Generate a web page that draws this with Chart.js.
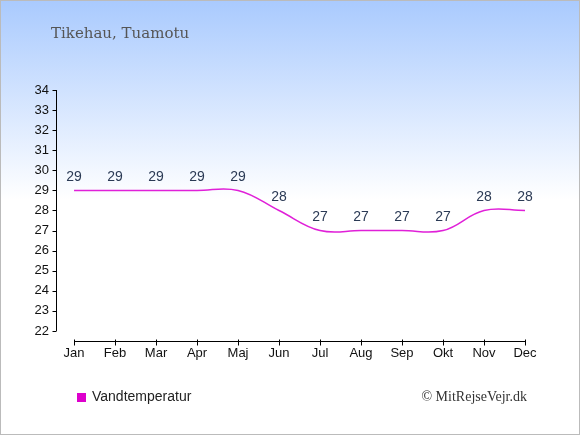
<!DOCTYPE html>
<html>
<head>
<meta charset="utf-8">
<script src="https://cdn.jsdelivr.net/npm/chart.js@4/dist/chart.umd.min.js"></script>
<style>
html,body{margin:0;padding:0;background:#fff;}
canvas{display:block;}
</style>
</head>
<body>
<canvas id="c" width="580" height="435"></canvas>
<script>
const title = "Tikehau, Tuamotu";
const months = ["Jan","Feb","Mar","Apr","Maj","Jun","Jul","Aug","Sep","Okt","Nov","Dec"];
const waterTemp = [29,29,29,29,29,28,27,27,27,27,28,28];
const yTicks = [22,23,24,25,26,27,28,29,30,31,32,33,34];
const seriesName = "Vandtemperatur";
const credit = "© MitRejseVejr.dk";

const points = waterTemp.map((v,i)=>({x:i,y:v}));

const deco = {
  id:'deco',
  beforeDraw(chart){
    const ctx = chart.ctx, W = chart.width, H = chart.height;
    ctx.save();
    const g = ctx.createLinearGradient(0,0,0,200);
    g.addColorStop(0,'#a9cafe');
    g.addColorStop(1,'#ffffff');
    ctx.fillStyle = '#ffffff';
    ctx.fillRect(0,0,W,H);
    ctx.fillStyle = g;
    ctx.fillRect(0,0,W,200);
    ctx.restore();
  },
  afterDraw(chart){
    const ctx = chart.ctx, W = chart.width, H = chart.height;
    const xs = chart.scales.x, ys = chart.scales.y;
    ctx.save();
    // axes
    ctx.strokeStyle = '#000';
    ctx.lineWidth = 1;
    const ax = Math.round(chart.chartArea.left)+0.5;
    ctx.beginPath();
    ctx.moveTo(ax, ys.getPixelForValue(yTicks[yTicks.length-1]));
    ctx.lineTo(ax, ys.getPixelForValue(yTicks[0]));
    yTicks.forEach(v=>{
      const py = Math.round(ys.getPixelForValue(v))+0.5;
      ctx.moveTo(ax-4, py); ctx.lineTo(ax, py);
    });
    const by = Math.round(chart.chartArea.bottom)+0.5;
    ctx.moveTo(xs.getPixelForValue(0), by);
    ctx.lineTo(xs.getPixelForValue(months.length-1), by);
    months.forEach((m,i)=>{
      const px = Math.round(xs.getPixelForValue(i))+0.5;
      ctx.moveTo(px, by-2); ctx.lineTo(px, by+4);
    });
    ctx.stroke();
    // value labels
    ctx.fillStyle = '#2b3a55';
    ctx.font = '14px "Liberation Sans", Arial, sans-serif';
    ctx.textAlign = 'center';
    ctx.textBaseline = 'middle';
    waterTemp.forEach((v,i)=>{
      ctx.fillText(String(v), xs.getPixelForValue(i), ys.getPixelForValue(v)-13);
    });
    // title
    ctx.fillStyle = '#555555';
    ctx.font = '15px "DejaVu Serif", Georgia, serif';
    ctx.textAlign = 'left';
    ctx.textBaseline = 'alphabetic';
    ctx.fillText(title, 51, 38);
    // legend
    ctx.fillStyle = '#dd00cc';
    ctx.fillRect(77, 393, 9, 9);
    ctx.fillStyle = '#222';
    ctx.font = '14px "Liberation Sans", Arial, sans-serif';
    ctx.textBaseline = 'middle';
    ctx.fillText(seriesName, 92, 397);
    ctx.font = '14px "Liberation Serif", "Times New Roman", serif';
    ctx.textAlign = 'right';
    ctx.fillStyle = '#333';
    ctx.fillText(credit, 527, 397);
    // border
    ctx.strokeStyle = '#bbbbbb';
    ctx.lineWidth = 2;
    ctx.strokeRect(0,0,W,H);
    ctx.restore();
  }
};

new Chart(document.getElementById('c'), {
  type:'line',
  data:{
    datasets:[{
      label: seriesName,
      data: points,
      borderColor:'#e020d8',
      borderWidth:1.5,
      pointRadius:0,
      tension:0.4,
      fill:false
    }]
  },
  options:{
    responsive:false,
    animation:false,
    devicePixelRatio:1,
    layout:{padding:{left:0,top:90,right:55,bottom:0}},
    plugins:{legend:{display:false},tooltip:{enabled:false}},
    scales:{
      x:{
        type:'linear',
        min:-0.44,
        max:11,
        afterBuildTicks(s){ s.ticks = months.map((m,i)=>({value:i})); },
        afterFit(s){ s.height = 94; },
        grid:{display:false,drawTicks:false},
        border:{display:false},
        ticks:{
          autoSkip:false,
          maxRotation:0,
          padding:5,
          color:'#111',
          font:{family:'"Liberation Sans", Arial, sans-serif',size:13},
          callback:(v)=>months[v]
        }
      },
      y:{
        type:'linear',
        min:21.5,
        max:34,
        afterBuildTicks(s){ s.ticks = yTicks.map(v=>({value:v})); },
        afterFit(s){ s.width = 56; },
        grid:{display:false,drawTicks:false},
        border:{display:false},
        ticks:{
          padding:7,
          color:'#111',
          font:{family:'"Liberation Sans", Arial, sans-serif',size:13}
        }
      }
    }
  },
  plugins:[deco]
});
</script>
</body>
</html>
